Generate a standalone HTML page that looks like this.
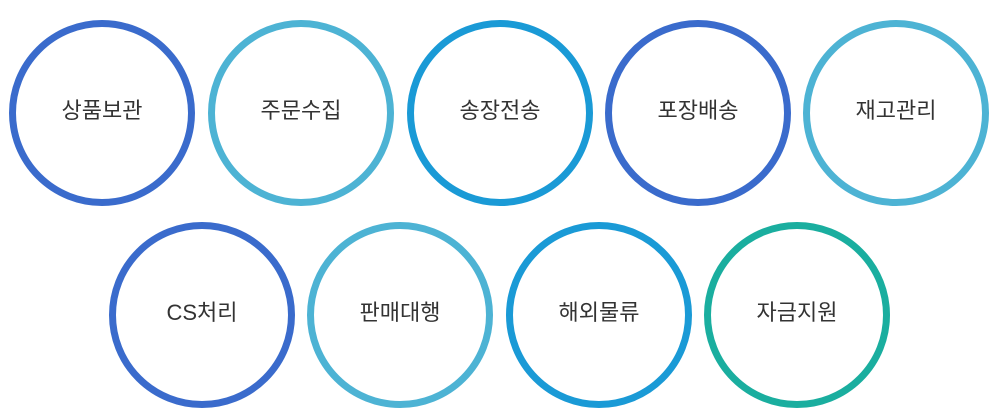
<!DOCTYPE html>
<html><head><meta charset="utf-8"><style>
html,body{margin:0;padding:0;background:#fff;width:1000px;height:416px;overflow:hidden}
</style></head><body>
<svg width="1000" height="416" xmlns="http://www.w3.org/2000/svg" font-family="'Liberation Sans','Noto Sans CJK KR',sans-serif" font-size="22" fill="#333" text-anchor="middle">
<g fill="none" stroke-width="7">
<circle cx="102" cy="113" r="89.5" stroke="#3a6bcc"/>
<circle cx="301" cy="113" r="89.5" stroke="#4db3d4"/>
<circle cx="500" cy="113" r="89.5" stroke="#1a9ad6"/>
<circle cx="698" cy="113" r="89.5" stroke="#3a6bcc"/>
<circle cx="896" cy="113" r="89.5" stroke="#4db3d4"/>
<circle cx="202" cy="315" r="89.5" stroke="#3a6bcc"/>
<circle cx="400" cy="315" r="89.5" stroke="#4db3d4"/>
<circle cx="599" cy="315" r="89.5" stroke="#1a9ad6"/>
<circle cx="797" cy="315" r="89.5" stroke="#1aae9f"/>
</g>
<text x="102" y="118">상품보관</text>
<text x="301" y="118">주문수집</text>
<text x="500" y="118">송장전송</text>
<text x="698" y="118">포장배송</text>
<text x="896" y="118">재고관리</text>
<text x="202" y="320">CS처리</text>
<text x="400" y="320">판매대행</text>
<text x="599" y="320">해외물류</text>
<text x="797" y="320">자금지원</text>
</svg>
</body></html>
